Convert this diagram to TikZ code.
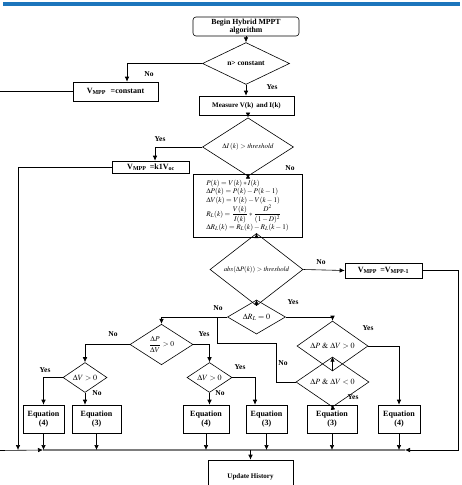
\documentclass[tikz,border=0pt]{standalone}
\usepackage{mathptmx}
\usepackage{fontspec}
\setmainfont{Liberation Serif}
\usetikzlibrary{shapes.geometric,arrows.meta,calc}

\definecolor{topblue}{RGB}{28,117,188}
\definecolor{busgray}{RGB}{125,125,125}

\tikzset{
    box/.style={draw, rectangle, inner sep=0pt, line width=0.6pt, align=center, font=\bfseries\fontsize{8}{9}\selectfont},
    cond/.style={draw, diamond, inner sep=0pt, line width=0.6pt, align=center, font=\fontsize{8}{9}\selectfont},
    lbl/.style={font=\bfseries\fontsize{7.5}{8}\selectfont},
    link/.style={line width=0.6pt},
    arr/.style={link, -{Latex[length=5pt,width=4.5pt]}},
}

\begin{document}
\begin{tikzpicture}[x=1pt,y=-1pt]

    \useasboundingbox (0,0) rectangle (462,485);
    \clip (0,0) rectangle (462,485);

    % Blue bar at the top
    \fill[topblue] (3,2) rectangle (460,5.5);

    % Define the main column
    \node (begin) at (246,26.5) [box, rounded corners=3pt, minimum width=106pt, minimum height=19pt, font=\bfseries\fontsize{7.8}{8.5}\selectfont] {Begin Hybrid MPPT\\algorithm};
    \node (nconst) at (246,63.5) [cond, minimum width=87pt, minimum height=37pt, font=\bfseries\fontsize{7.5}{8}\selectfont] {n> constant};
    \node (vconst) at (115.5,91.5) [box, minimum width=85pt, minimum height=19pt] {V\textsubscript{MPP}\,\, =constant};
    \node (measure) at (246.5,105.5) [box, minimum width=95pt, minimum height=19pt, font=\bfseries\fontsize{7}{8}\selectfont] {Measure V(k)\, and I(k)};
    \node (dI) at (248,147) [cond, minimum width=91pt, minimum height=36pt, font=\fontsize{7}{8}\selectfont] {$\Delta I\,(k) > \mathit{threshold}$};
    \node (vk) at (151,167) [box, minimum width=77pt, minimum height=12pt] {V\textsubscript{MPP}\, =k1V\textsubscript{oc}};
    \node (calc) at (247.5,205.5) [box, minimum width=109pt, minimum height=63pt, align=left, font=\fontsize{7.2}{8.6}\selectfont] {%
        $P(k) = V(k) * I(k)$\\
        $\Delta P(k) = P(k) - P(k-1)$\\
        $\Delta V(k) = V(k) - V(k-1)$\\
        $R_L(k) = \displaystyle\frac{V(k)}{I(k)} * \frac{D^2}{(1-D)^2}$\\
        $\Delta R_L(k) = R_L(k) - R_L(k-1)$};
    \node (dP) at (256.5,269.5) [cond, minimum width=93pt, minimum height=35pt, font=\fontsize{6.8}{7.5}\selectfont] {$\mathit{abs}(\Delta P(k)) > \mathit{threshold}$};
    \node (vprev) at (383.5,270.5) [box, minimum width=77pt, minimum height=15pt] {V\textsubscript{MPP}\, =V\textsubscript{MPP-1}};
    \node (dR) at (256.5,317) [cond, minimum width=58pt, minimum height=33pt] {$\Delta R_L = 0$};

    % Define the decision branches
    \node (dPVp) at (332.5,346) [cond, minimum width=71pt, minimum height=28pt] {$\Delta P\ \&\ \Delta V > 0$};
    \node (dPVn) at (332.5,382) [cond, minimum width=73pt, minimum height=26pt] {$\Delta P\ \&\ \Delta V < 0$};
    \node (dPdV) at (161.5,344.5) [cond, minimum width=63pt, minimum height=35pt, font=\fontsize{7.5}{8}\selectfont] {$\displaystyle\frac{\Delta P}{\Delta V} > 0$};
    \node (dVa) at (85,377.5) [cond, minimum width=44pt, minimum height=21pt] {$\Delta V > 0$};
    \node (dVb) at (209.5,377.5) [cond, minimum width=45pt, minimum height=21pt] {$\Delta V > 0$};

    % Define the equation boxes
    \node (eqA) at (43.5,419) [box, minimum width=41pt, minimum height=28pt] {Equation\\(4)};
    \node (eqB) at (96.5,419) [box, minimum width=49pt, minimum height=28pt] {Equation\\(3)};
    \node (eqC) at (206,419) [box, minimum width=46pt, minimum height=28pt] {Equation\\(4)};
    \node (eqD) at (266.5,419) [box, minimum width=41pt, minimum height=28pt] {Equation\\(3)};
    \node (eqE) at (332,419) [box, minimum width=50pt, minimum height=28pt] {Equation\\(3)};
    \node (eqF) at (399,419) [box, minimum width=42pt, minimum height=28pt] {Equation\\(4)};
    \node (update) at (250.5,477) [box, minimum width=85pt, minimum height=34pt, font=\bfseries\fontsize{7}{8}\selectfont] {Update History};

    % Define the free ends and bends
    \coordinate (outA) at (0,91.5);
    \coordinate (outB) at (0,450.5);
    \coordinate (busL) at (43,450);
    \coordinate (busR) at (405,450);
    \coordinate (rc) at (458,450);
    \coordinate (leftdrop) at (18,450);
    \coordinate (bend) at (276,343);
    \coordinate (join) at (217,317);

    % Draw the main column
    \draw[arr] (begin.south) -- (nconst.north);
    \draw[arr] (nconst.west) -| ([xshift=11.5pt]vconst.north);
    \draw[link] (vconst.west) -- (outA);
    \draw[arr] (nconst.south) -- (measure.north -| nconst.south);
    \draw[arr] (dI.north |- measure.south) -- (dI.north);
    \draw[arr] (dI.west) -| ([xshift=4pt]vk.north);
    \draw[arr] (vk.west) -| (leftdrop);
    \draw[arr] (dI.south) -- (dI.south |- calc.north);
    \draw[arr] (dP.north |- calc.south) -- (dP.north);
    \draw[arr] (dP.east) -- (vprev.west);
    \draw[arr] (vprev.east) -| (rc) -- (busR);
    \draw[arr] (dP.south) -- (dR.north);

    % Draw the branches
    \draw[arr] (dR.east) -| (dPVp.north);
    \draw[arr] (dPVp.east) -| (eqF.north);
    \draw[arr] (dPVp.south) -- (dPVn.north);
    \draw[arr] (dPVn.south) -- (eqE.north);
    \draw[link] (dPVn.west) -| (bend) -| (join);
    \draw[arr] (dR.west) -| (dPdV.north);
    \draw[arr] (dPdV.west) -| (dVa.north);
    \draw[arr] (dPdV.east) -| (dVb.north);
    \draw[arr] (dVa.west) -| (eqA.north);
    \draw[arr] (dVa.south) -- (dVa.south |- eqB.north);
    \draw[arr] (dVb.south) -- (dVb.south |- eqC.north);
    \draw[arr] (dVb.east) -| ([xshift=-11.5pt]eqD.north);

    % Draw the bus to the update box
    \draw[link, busgray, line width=1.5pt] (busL) -- (busR);
    \draw[arr] (outB) -- (busL);
    \foreach \eq in {eqA,eqB,eqC,eqD,eqE,eqF}
        \draw[arr] (\eq.south) -- (\eq.south |- busL);
    \draw[arr] (update.north |- busL) -- (update.north);

    % Place the Yes and No labels
    \node (l1) at (149,74) [lbl] {No};
    \node (l2) at (272,87) [lbl] {Yes};
    \node (l3) at (160,139) [lbl] {Yes};
    \node (l4) at (290,168) [lbl] {No};
    \node (l5) at (321,262) [lbl] {No};
    \node (l6) at (293,302) [lbl] {Yes};
    \node (l7) at (218,308) [lbl] {No};
    \node (l8) at (368,328) [lbl] {Yes};
    \node (l9) at (113,334) [lbl] {No};
    \node (l10) at (204,334) [lbl] {Yes};
    \node (l11) at (45,370) [lbl] {Yes};
    \node (l12) at (97,393) [lbl] {No};
    \node (l13) at (220,393) [lbl] {No};
    \node (l14) at (240,367) [lbl] {Yes};
    \node (l15) at (283,363) [lbl] {No};
    \node (l16) at (353,397) [lbl] {Yes};

\end{tikzpicture}
\end{document}
